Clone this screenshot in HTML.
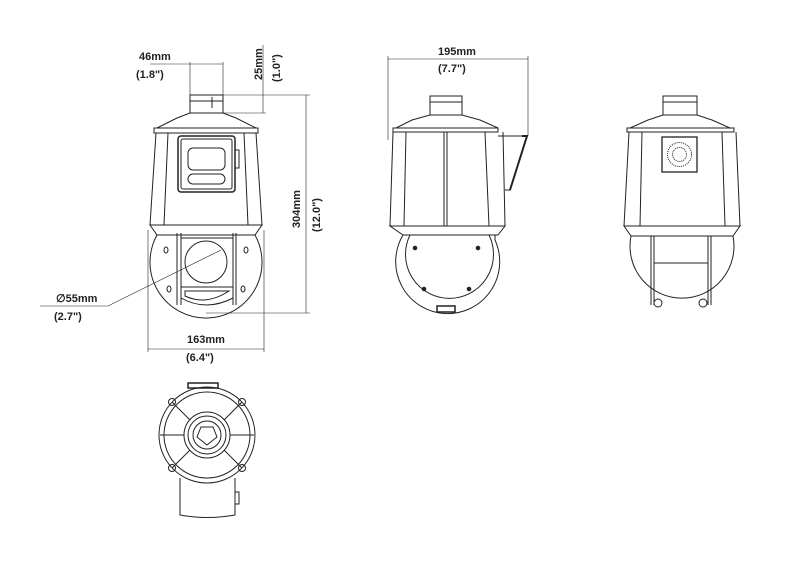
<!DOCTYPE html>
<html><head><meta charset="utf-8"><style>
html,body{margin:0;padding:0;background:#fff;}
svg{display:block;}
text{font-family:"Liberation Sans",sans-serif;font-weight:bold;fill:#222;}
</style></head><body>
<svg width="800" height="566" viewBox="0 0 800 566" xmlns="http://www.w3.org/2000/svg">
<g fill="none" stroke="#222" stroke-width="1">
<!-- FRONT VIEW -->
<rect x="190" y="95" width="33" height="18"/>
<line x1="190" y1="101" x2="223" y2="101"/>
<line x1="212" y1="97" x2="212" y2="108"/>
<path d="M190 113 L223 113 L236 118 L256 128 L157 128 L177 118 Z"/>
<rect x="154" y="128" width="104" height="5"/>
<path d="M156 133 L150 225 L262 225 L256 133"/>
<line x1="168" y1="133" x2="164" y2="225"/>
<line x1="244" y1="133" x2="248" y2="225"/>
<rect x="178" y="136" width="57" height="56" rx="3" stroke-width="1.5"/>
<rect x="181" y="139" width="51" height="50" rx="2"/>
<rect x="188" y="148" width="37" height="22" rx="5"/>
<rect x="188" y="174" width="37" height="10" rx="5"/>
<rect x="235" y="150" width="4" height="18"/>
<path d="M150 225 L262 225 L255 235 L157 235 Z"/>
<path d="M157 235 A56 56 0 1 0 255 235"/>
<line x1="177" y1="233" x2="177" y2="305"/><line x1="181" y1="233" x2="181" y2="305"/>
<line x1="233" y1="233" x2="233" y2="305"/><line x1="236" y1="233" x2="236" y2="305"/>
<line x1="181" y1="238" x2="233" y2="238"/>
<circle cx="206" cy="262" r="21"/>
<path d="M181 287 L233 287 L233 298 Q206 312 181 298 Z"/>
<path d="M185 291 L229 291 Q206 306 185 296 Z"/>
<ellipse cx="166" cy="250" rx="2" ry="3"/><ellipse cx="246" cy="250" rx="2" ry="3"/>
<ellipse cx="169" cy="289" rx="2" ry="3"/><ellipse cx="243" cy="289" rx="2" ry="3"/>
<!-- dims front -->
<g stroke-width="0.6">
<line x1="150" y1="64" x2="223" y2="64"/>
<line x1="190" y1="62" x2="190" y2="95"/><line x1="223" y1="62" x2="223" y2="95"/>
<line x1="223" y1="95" x2="310" y2="95"/>
<line x1="223" y1="113" x2="266" y2="113"/>
<line x1="263" y1="45" x2="263" y2="113"/>
<line x1="306" y1="95" x2="306" y2="313"/>
<line x1="206" y1="313" x2="310" y2="313"/>
<line x1="148" y1="230" x2="148" y2="352"/><line x1="264" y1="230" x2="264" y2="352"/>
<line x1="148" y1="349" x2="264" y2="349"/>
<polyline points="40,306 108,306 221,250"/>
</g>
<!-- SIDE VIEW -->
<rect x="430" y="96" width="32" height="19"/>
<line x1="430" y1="102" x2="462" y2="102"/>
<path d="M430 115 L462 115 L480 120 L498 128 L396 128 L412 120 Z"/>
<rect x="393" y="128" width="105" height="4"/>
<path d="M393 132 L390 226 L505 226 L503 132"/>
<line x1="406" y1="132" x2="404" y2="226"/>
<line x1="444" y1="132" x2="444" y2="226"/><line x1="447" y1="132" x2="447" y2="226"/>
<line x1="485" y1="132" x2="489" y2="226"/>
<path d="M498 136 L527 136 L510 190 L505 190"/>
<path d="M522 136 L527 136 L510 190" stroke-width="2"/>
<path d="M390 226 L505 226 L498 235 L403 235 Z"/>
<path d="M403 235 A52 52 0 1 0 495 240 L495 235"/>
<path d="M410 235 A44 44 0 1 0 489 235"/>
<rect x="437" y="306" width="18" height="6" stroke-width="1.5"/>
<circle cx="415" cy="248" r="1.8" fill="#222"/><circle cx="478" cy="248" r="1.8" fill="#222"/>
<circle cx="424" cy="289" r="1.8" fill="#222"/><circle cx="469" cy="289" r="1.8" fill="#222"/>
<g stroke-width="0.6">
<line x1="388" y1="59" x2="528" y2="59"/>
<line x1="388" y1="56" x2="388" y2="140"/><line x1="528" y1="56" x2="528" y2="136"/>
</g>
<!-- REAR VIEW -->
<rect x="663" y="96" width="34" height="19"/>
<line x1="663" y1="102" x2="697" y2="102"/>
<path d="M663 115 L697 115 L712 120 L730 128 L630 128 L648 120 Z"/>
<rect x="627" y="128" width="107" height="4"/>
<path d="M629 132 L624 226 L740 226 L736 132"/>
<line x1="642" y1="132" x2="640" y2="226"/><line x1="722" y1="132" x2="725" y2="226"/>
<rect x="662" y="137" width="35" height="35" stroke-width="1.3"/>
<circle cx="679.5" cy="154.5" r="12" stroke-dasharray="1 1"/>
<circle cx="679.5" cy="154.5" r="7" stroke-dasharray="1 1"/>
<path d="M624 226 L740 226 L733 236 L631 236 Z"/>
<path d="M631 236 A52 52 0 1 0 733 236"/>
<line x1="651" y1="236" x2="651" y2="305"/><line x1="654" y1="236" x2="654" y2="305"/>
<line x1="708" y1="236" x2="708" y2="305"/><line x1="711" y1="236" x2="711" y2="305"/>
<line x1="654" y1="236" x2="708" y2="236"/>
<line x1="654" y1="263" x2="708" y2="263"/>
<circle cx="658" cy="303" r="4"/><circle cx="703" cy="303" r="4"/>
<!-- BOTTOM VIEW -->
<circle cx="207" cy="435" r="48"/>
<circle cx="207" cy="435" r="43"/>
<rect x="188" y="383" width="30" height="5" stroke-width="1.5"/>
<circle cx="207" cy="435" r="23"/>
<circle cx="207" cy="435" r="19"/>
<circle cx="207" cy="435" r="14"/>
<polygon points="201,427 213,427 217,437 207,445 197,437"/>
<line x1="172" y1="402" x2="190" y2="420"/><line x1="242" y1="402" x2="224" y2="420"/>
<line x1="172" y1="468" x2="190" y2="450"/><line x1="242" y1="468" x2="224" y2="450"/>
<line x1="160" y1="435" x2="184" y2="435"/><line x1="230" y1="435" x2="254" y2="435"/>
<circle cx="172" cy="402" r="3.5"/><circle cx="242" cy="402" r="3.5"/>
<circle cx="172" cy="468" r="3.5"/><circle cx="242" cy="468" r="3.5"/>
<path d="M180 478 L180 515 Q207 520 235 515 L235 478"/>
<rect x="235" y="492" width="4" height="12"/>
</g>
<g font-size="11">
<text x="139" y="60">46mm</text>
<text x="136" y="78">(1.8")</text>
<text x="438" y="55">195mm</text>
<text x="438" y="72">(7.7")</text>
<text x="187" y="343">163mm</text>
<text x="186" y="361">(6.4")</text>
<text x="56" y="302">∅55mm</text>
<text x="54" y="320">(2.7")</text>
<text transform="translate(262,80) rotate(-90)">25mm</text>
<text transform="translate(280,82) rotate(-90)" font-weight="normal">(1.0")</text>
<text transform="translate(300,228) rotate(-90)">304mm</text>
<text transform="translate(320,232) rotate(-90)" font-weight="normal">(12.0")</text>
</g>
</svg>
</body></html>
